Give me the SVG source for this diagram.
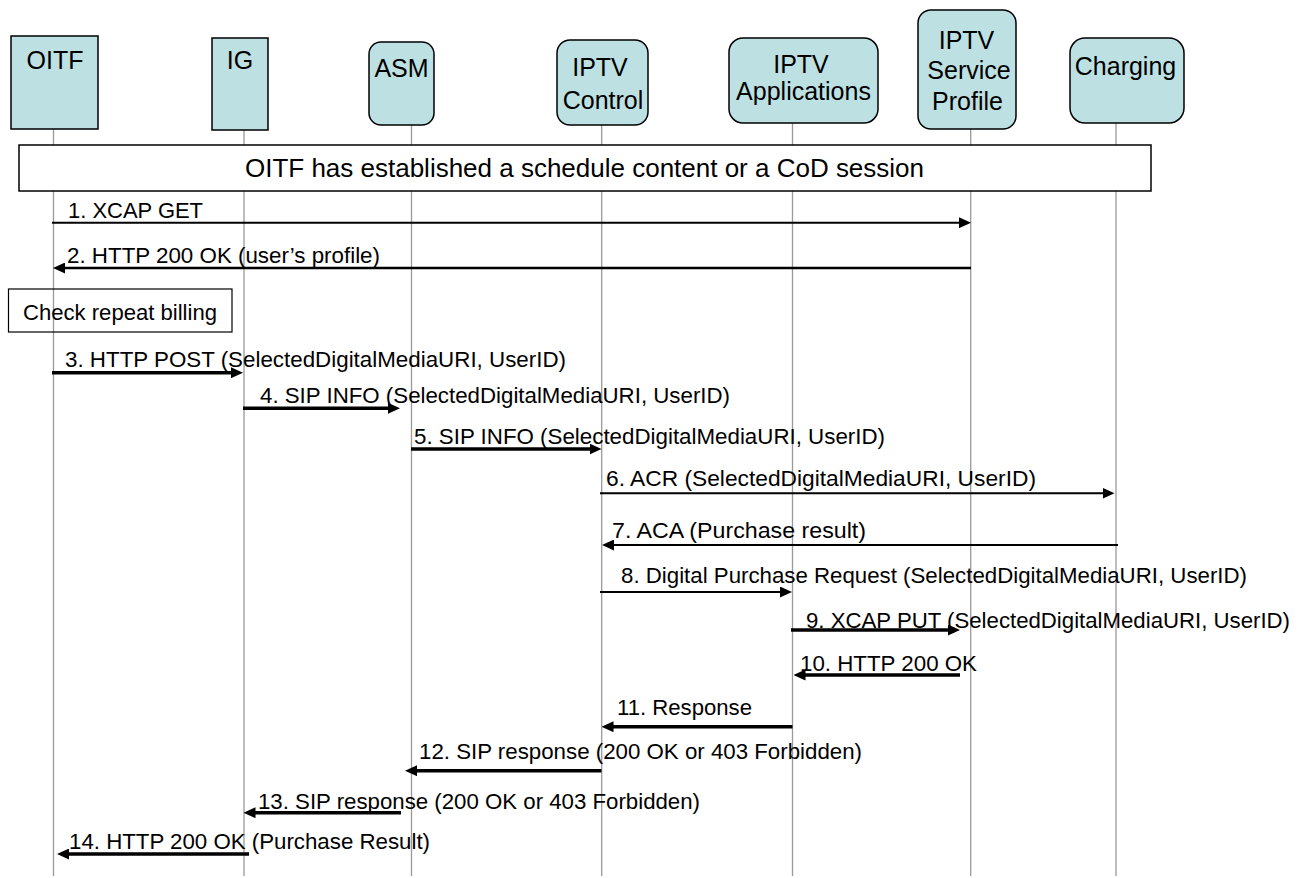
<svg xmlns="http://www.w3.org/2000/svg" width="1303" height="878" viewBox="0 0 1303 878">
<style>
.bg{fill:#ffffff}
.node{fill:#bde0e3;stroke:#000;stroke-width:1.5}
.life{stroke:#999;stroke-width:1.3;fill:none}
.hdr{font-family:"Liberation Sans",Arial,sans-serif;font-size:25px;fill:#000;text-anchor:middle}
.msg{font-family:"Liberation Sans",Arial,sans-serif;font-size:22px;fill:#000}
.frame{fill:#fff;stroke:#000;stroke-width:1.5}
.note{fill:none;stroke:#000;stroke-width:1.2}
.thin{stroke:#000;stroke-width:2;fill:none;marker-end:url(#ah)}
.thick{stroke:#000;stroke-width:3.5;fill:none;marker-end:url(#ah)}
</style>
<defs>
<marker id="ah" markerUnits="userSpaceOnUse" markerWidth="12" markerHeight="11" refX="6" refY="5.5" orient="auto">
<path d="M0,0 L12,5.5 L0,11 z" fill="#000"/>
</marker>
</defs>
<rect class="bg" x="0" y="0" width="1303" height="878"/>

<g id="lifelines">
<line class="life" x1="53.5" y1="129" x2="53.5" y2="876"/>
<line class="life" x1="244" y1="130" x2="244" y2="876"/>
<line class="life" x1="411.5" y1="125" x2="411.5" y2="876"/>
<line class="life" x1="601.7" y1="125" x2="601.7" y2="876"/>
<line class="life" x1="792.5" y1="123" x2="792.5" y2="876"/>
<line class="life" x1="970.7" y1="129" x2="970.7" y2="876"/>
<line class="life" x1="1116" y1="123" x2="1116" y2="876"/>
</g>

<g id="node-oitf">
<rect class="node" x="11" y="36" width="87" height="93"/>
<text class="hdr" x="55" y="69">OITF</text>
</g>
<g id="node-ig">
<rect class="node" x="212" y="38" width="56" height="92"/>
<text class="hdr" x="240" y="69">IG</text>
</g>
<g id="node-asm">
<rect class="node" x="369" y="42" width="65" height="83" rx="12" ry="12"/>
<text class="hdr" x="401.5" y="77.3">ASM</text>
</g>
<g id="node-iptv-control">
<rect class="node" x="557" y="40" width="91" height="85" rx="13" ry="13"/>
<text class="hdr" x="600" y="76">IPTV</text>
<text class="hdr" x="603" y="109">Control</text>
</g>
<g id="node-iptv-applications">
<rect class="node" x="729" y="38" width="149" height="85" rx="14" ry="14"/>
<text class="hdr" x="801" y="72.7">IPTV</text>
<text class="hdr" x="803.5" y="100">Applications</text>
</g>
<g id="node-iptv-service-profile">
<rect class="node" x="918" y="10" width="98" height="119" rx="13" ry="13"/>
<text class="hdr" x="966.5" y="49.3">IPTV</text>
<text class="hdr" x="969" y="79.3">Service</text>
<text class="hdr" x="967.5" y="110">Profile</text>
</g>
<g id="node-charging">
<rect class="node" x="1070" y="38" width="114" height="85" rx="15" ry="15"/>
<text class="hdr" x="1125.5" y="75">Charging</text>
</g>

<g id="node-session">
<rect class="frame" x="19" y="145" width="1132" height="46"/>
<text class="msg" x="245" y="177.3" style="font-size:26px" textLength="679" lengthAdjust="spacingAndGlyphs">OITF has established a schedule content or a CoD session</text>
</g>

<g id="node-check">
<rect class="note" x="8.5" y="289" width="223.5" height="43"/>
<text class="msg" x="23" y="320" textLength="194" lengthAdjust="spacingAndGlyphs">Check repeat billing</text>
</g>

<g id="connectors">
<line class="thin" x1="52" y1="222.7" x2="965" y2="222.7"/>
<line class="thin" x1="971" y1="268" x2="59" y2="268" style="stroke-width:2.3"/>
<line class="thick" x1="52" y1="372.7" x2="237" y2="372.7"/>
<line class="thick" x1="243" y1="408.3" x2="394" y2="408.3"/>
<line class="thick" x1="411" y1="449" x2="595.5" y2="449"/>
<line class="thin" x1="600" y1="493.3" x2="1108.5" y2="493.3"/>
<line class="thin" x1="1118" y1="545" x2="608" y2="545"/>
<line class="thin" x1="600" y1="592" x2="786" y2="592"/>
<line class="thick" x1="791" y1="630" x2="954" y2="630"/>
<line class="thick" x1="960" y1="675" x2="799.5" y2="675"/>
<line class="thick" x1="792.5" y1="726.7" x2="607.5" y2="726.7"/>
<line class="thick" x1="601.5" y1="770.7" x2="411" y2="770.7"/>
<line class="thick" x1="401" y1="812.7" x2="249.5" y2="812.7"/>
<line class="thick" x1="249" y1="854" x2="63" y2="854"/>

<text class="msg" x="68" y="218" textLength="135" lengthAdjust="spacingAndGlyphs">1. XCAP GET</text>
<text class="msg" x="67" y="263.3" textLength="313" lengthAdjust="spacingAndGlyphs">2. HTTP 200 OK (user’s profile)</text>
<text class="msg" x="65" y="367.3" textLength="501" lengthAdjust="spacingAndGlyphs">3. HTTP POST (SelectedDigitalMediaURI, UserID)</text>
<text class="msg" x="260" y="402.7" textLength="470" lengthAdjust="spacingAndGlyphs">4. SIP INFO (SelectedDigitalMediaURI, UserID)</text>
<text class="msg" x="414" y="443.5" textLength="471" lengthAdjust="spacingAndGlyphs">5. SIP INFO (SelectedDigitalMediaURI, UserID)</text>
<text class="msg" x="606" y="485.5" textLength="430" lengthAdjust="spacingAndGlyphs">6. ACR (SelectedDigitalMediaURI, UserID)</text>
<text class="msg" x="612" y="537.5" textLength="254" lengthAdjust="spacingAndGlyphs">7. ACA (Purchase result)</text>
<text class="msg" x="621" y="583" textLength="626" lengthAdjust="spacingAndGlyphs">8. Digital Purchase Request (SelectedDigitalMediaURI, UserID)</text>
<text class="msg" x="806" y="627.5" textLength="484" lengthAdjust="spacingAndGlyphs">9. XCAP PUT (SelectedDigitalMediaURI, UserID)</text>
<text class="msg" x="800" y="671" textLength="177" lengthAdjust="spacingAndGlyphs">10. HTTP 200 OK</text>
<text class="msg" x="617" y="715" textLength="135" lengthAdjust="spacingAndGlyphs">11. Response</text>
<text class="msg" x="419" y="759.3" textLength="443" lengthAdjust="spacingAndGlyphs">12. SIP response (200 OK or 403 Forbidden)</text>
<text class="msg" x="258" y="809" textLength="442" lengthAdjust="spacingAndGlyphs">13. SIP response (200 OK or 403 Forbidden)</text>
<text class="msg" x="69" y="849" textLength="361" lengthAdjust="spacingAndGlyphs">14. HTTP 200 OK (Purchase Result)</text>
</g>
</svg>
